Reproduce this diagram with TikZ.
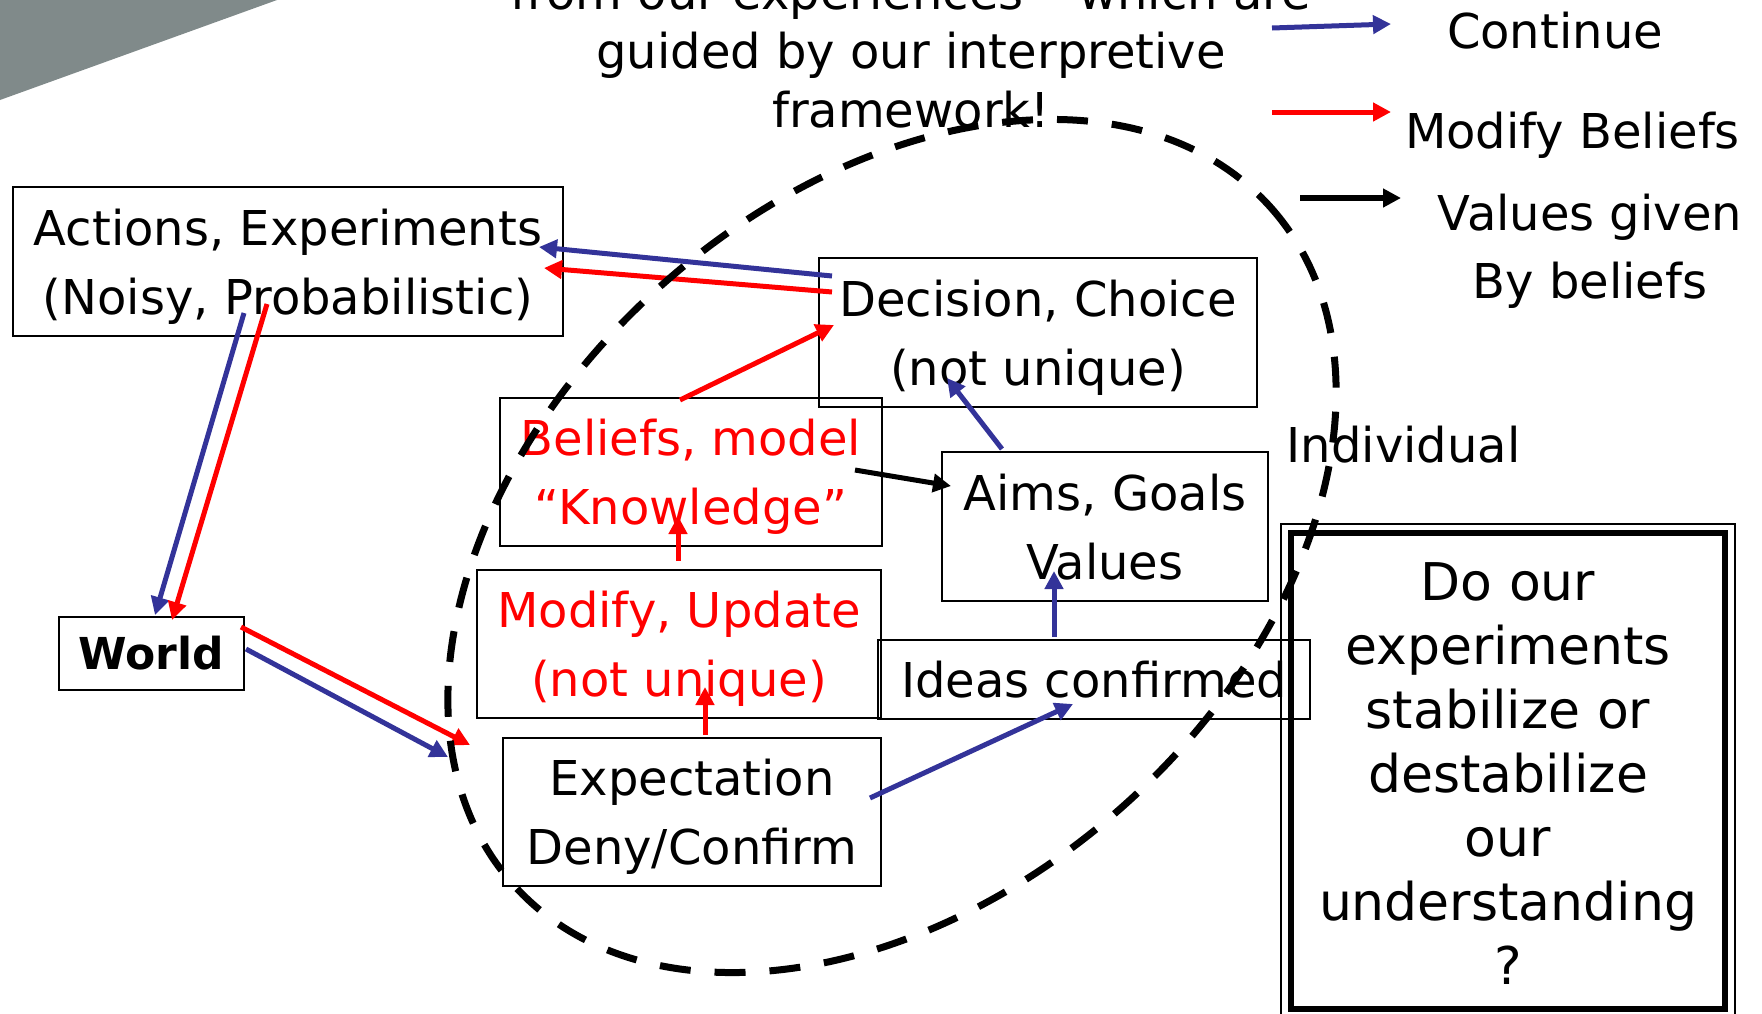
\documentclass[tikz,border=0pt]{standalone}
\usepackage{fontspec}
\setmainfont{DejaVu Sans}
\usetikzlibrary{arrows.meta,calc}
\definecolor{pblue}{RGB}{51,51,153}
\definecolor{pred}{RGB}{255,0,0}
\definecolor{slidegray}{RGB}{128,138,138}
\newcommand{\mytopline}{\rule{0pt}{24pt}}
\newcommand{\mybotline}{\rule[-5.7pt]{0pt}{5.7pt}}
\begin{document}
\begin{tikzpicture}[x=0.5pt,y=-0.5pt,
  every node/.style={inner sep=0pt},
  box/.style={draw=black, line width=1pt, align=center, font=\fontsize{24}{34.5}\selectfont},
  redtext/.style={text=pred},
  lbl/.style={font=\fontsize{24}{34}\selectfont, align=center},
  arr/.style={line width=2.5pt, -{Triangle[length=9pt,width=9pt]}},
  barr/.style={arr, draw=pblue},
  rarr/.style={arr, draw=pred},
  karr/.style={arr, draw=black},
  ring/.style={draw=black, line width=3.5pt, dash pattern=on 15.5pt off 12pt}
]
\useasboundingbox (0,0) rectangle (1762,1013);
\fill[slidegray] (0,0) -- (277,0) -- (0,100) -- cycle;

% heading (cut at the top)
\node[lbl, font=\fontsize{24}{29.5}\selectfont] (head) at (911,51)
  {from our experiences – which are\\guided by our interpretive\\framework!};

% legend
\node[lbl, anchor=base] (lcont) at (1555,48) {Continue};
\node[lbl, anchor=base] (lmod) at (1572.5,148) {Modify Beliefs};
\node[lbl] (lval) at (1590,251) {Values given\\By beliefs};
\coordinate (lb0) at (1272,28);  \coordinate (lb1) at (1391,24);
\coordinate (lr0) at (1272,112); \coordinate (lr1) at (1391,112);
\coordinate (lk0) at (1300,198); \coordinate (lk1) at (1401,198);
\draw[barr] (lb0) -- (lb1);
\draw[rarr] (lr0) -- (lr1);
\draw[karr, line width=3pt] (lk0) -- (lk1);

\node[lbl, anchor=base] (indiv) at (1403.5,462) {Individual};

% boxes
\node[box, minimum width=275pt, minimum height=74.5pt] (act) at (288,261.5)
  {\mytopline Actions, Experiments\\(Noisy, Probabilistic)\mybotline};
\node[box, minimum width=219pt, minimum height=74.5pt] (dec) at (1038,332.5)
  {\mytopline Decision, Choice\\(not unique)\mybotline};
\node[box, redtext, minimum width=191pt, minimum height=74pt] (bel) at (691,472)
  {\mytopline Beliefs, model\\“Knowledge”\mybotline};
\node[box, minimum width=163pt, minimum height=74.5pt] (aims) at (1105,526.5)
  {\mytopline Aims, Goals\\Values\mybotline};
\node[box, redtext, minimum width=202pt, minimum height=74pt] (mod) at (679,644)
  {\mytopline Modify, Update\\(not unique)\mybotline};
\node[box, minimum width=216pt, minimum height=39.5pt] (ideas) at (1094,679.5)
  {Ideas confirmed};
\node[box, minimum width=189pt, minimum height=74pt] (exp) at (692,812)
  {\mytopline Expectation\\Deny/Confirm\mybotline};
\node[box, font=\fontsize{22}{26}\selectfont\bfseries, minimum width=92.5pt, minimum height=36.5pt] (world) at (151.5,653.5)
  {World};
\node[box, line width=3pt, font=\fontsize{26}{32}\selectfont, minimum width=217pt, minimum height=238pt] (q) at (1508,771)
  {\rule{0pt}{21.2pt}Do our\\experiments\\stabilize or\\destabilize\\our\\understanding\\?};
\draw[line width=0.6pt] ($(q.north west)+(-7,-6)$) rectangle ($(q.south east)+(7,7)$);

% connectors
\draw[barr] ($(dec.center)+(-206,-56.5)$) -- ($(act.center)+(251,-14.5)$);
\draw[rarr] ($(dec.center)+(-206,-40.5)$) -- ($(act.center)+(256,6.5)$);
\draw[barr] ($(act.center)+(-44,51.5)$) -- ($(world.center)+(3.5,-38.5)$);
\draw[rarr] ($(act.center)+(-21,42.5)$) -- ($(world.center)+(20.5,-33.5)$);
\draw[rarr] ($(world.center)+(89.5,-26.5)$) -- ($(exp.center)+(-222,-67)$);
\draw[barr] ($(world.center)+(94.5,-4.5)$) -- ($(exp.center)+(-244,-55)$);
\draw[rarr] ($(bel.center)+(-11,-72)$) -- ($(dec.center)+(-204,-7.5)$);
\draw[karr] ($(bel.center)+(164,-2)$) -- ($(aims.center)+(-154,-40.5)$);
\draw[barr] ($(aims.center)+(-103,-77.5)$) -- ($(dec.center)+(-91,45.5)$);
\draw[rarr] ($(mod.center)+(-1,-83)$) -- ($(bel.center)+(-13,44)$);
\draw[rarr] ($(exp.center)+(13,-77)$) -- ($(mod.center)+(26,43)$);
\draw[barr] ($(ideas.center)+(-40,-42.5)$) -- ($(aims.center)+(-51,44.5)$);
\draw[barr] ($(exp.center)+(178,-14)$) -- ($(ideas.center)+(-21,24.5)$);

% dashed boundary of the individual
\draw[ring, rotate around={41.8:(892,546)}] (892,546) ellipse [x radius=508, y radius=348];
\end{tikzpicture}
\end{document}
